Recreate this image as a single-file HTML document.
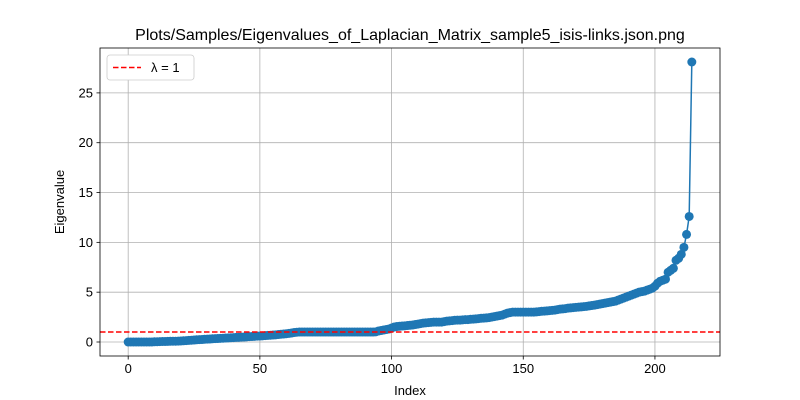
<!DOCTYPE html>
<html><head><meta charset="utf-8"><style>body{margin:0;background:#fff}svg{display:block;font-family:"Liberation Sans",sans-serif}</style></head>
<body>
<svg id="chart" width="800" height="400"></svg>
<script>
const indices = [];
const eigenvalues = [
0,0,0,0,0,0,0,0,0,0,
0.02,0.03,0.04,0.05,0.05,0.06,0.07,0.08,0.08,0.09,
0.1,0.12,0.14,0.16,0.18,0.2,0.22,0.24,0.25,0.27,
0.29,0.3,0.32,0.34,0.35,0.37,0.38,0.4,0.41,0.43,
0.44,0.46,0.47,0.49,0.5,0.52,0.54,0.55,0.57,0.59,
0.6,0.62,0.64,0.66,0.68,0.7,0.72,0.75,0.78,0.8,
0.83,0.86,0.9,0.95,0.98,1,1,1,1,1,
1,1,1,1,1,1,1,1,1,1,
1,1,1,1,1,1,1,1,1,1,
1,1,1,1,1.02,1.1,1.15,1.2,1.25,1.3,
1.4,1.5,1.55,1.58,1.6,1.62,1.65,1.68,1.7,1.75,
1.8,1.85,1.9,1.92,1.95,1.97,2,2,2,2,
2.05,2.1,2.12,2.15,2.18,2.2,2.2,2.22,2.25,2.25,
2.28,2.3,2.32,2.35,2.38,2.4,2.42,2.45,2.5,2.55,
2.6,2.65,2.7,2.8,2.9,2.95,3,3,3,3,
3,3,3,3,3,3.02,3.05,3.08,3.1,3.12,
3.15,3.18,3.2,3.25,3.3,3.32,3.35,3.4,3.42,3.45,
3.48,3.5,3.52,3.55,3.58,3.62,3.66,3.7,3.75,3.8,
3.85,3.9,3.95,4.0,4.05,4.1,4.2,4.3,4.4,4.5,
4.6,4.7,4.8,4.9,5.0,5.05,5.1,5.2,5.3,5.4,
5.6,5.9,6.1,6.2,6.3,7.0,7.2,7.4,8.2,8.4,
8.8,9.5,10.8,12.6,28.1];
for (let i = 0; i < eigenvalues.length; i++) indices.push(i);
const xTicks = [0, 50, 100, 150, 200];
const yTicks = [0, 5, 10, 15, 20, 25];
const threshold = 1;

const L = 100, R = 720, T = 48, B = 356;
const n = eigenvalues.length;
const ymax = Math.max(...eigenvalues);
const xmin = -0.05 * (n - 1), xmax = (n - 1) * 1.05;
const ymin = -0.05 * ymax, ymaxA = ymax * 1.05;
const sx = v => L + (v - xmin) / (xmax - xmin) * (R - L);
const sy = v => B - (v - ymin) / (ymaxA - ymin) * (B - T);
const svg = document.getElementById('chart');
const NS = 'http://www.w3.org/2000/svg';
function mk(tag, attrs, parent) {
  const e = document.createElementNS(NS, tag);
  for (const k in attrs) e.setAttribute(k, attrs[k]);
  (parent || svg).appendChild(e);
  return e;
}
let t = mk('text', {x: 410, y: 40, 'text-anchor': 'middle', 'font-size': 16, fill: '#000'});
t.textContent = 'Plots/Samples/Eigenvalues_of_Laplacian_Matrix_sample5_isis-links.json.png';


xTicks.forEach(v => {
  const x = sx(v);
  const g = mk('line', {x1: x, x2: x, y1: T, y2: B, stroke: '#b0b0b0', 'stroke-width': 0.8});
  
  
  mk('line', {x1: x, x2: x, y1: B, y2: B + 3.5, stroke: '#000', 'stroke-width': 0.8});
  const lb = mk('text', {x: x, y: B + 17, 'text-anchor': 'middle', 'font-size': 13});
  lb.textContent = v;
  
  
});
yTicks.forEach(v => {
  const y = sy(v);
  const g = mk('line', {x1: L, x2: R, y1: y, y2: y, stroke: '#b0b0b0', 'stroke-width': 0.8});
  
  
  mk('line', {x1: L - 3.5, x2: L, y1: y, y2: y, stroke: '#000', 'stroke-width': 0.8});
  const lb = mk('text', {x: L - 7, y: y + 4.5, 'text-anchor': 'end', 'font-size': 13});
  lb.textContent = v;
  
  
});
const xl = mk('text', {x: (L + R) / 2, y: 395, 'text-anchor': 'middle', 'font-size': 13});
xl.textContent = 'Index';


const yl = mk('text', {x: 0, y: 0, 'text-anchor': 'middle', 'font-size': 13, transform: 'translate(64,' + (T + B) / 2 + ') rotate(-90)'});
yl.textContent = 'Eigenvalue';


const ln = mk('polyline', {points: indices.map((i) => sx(i) + ',' + sy(eigenvalues[i])).join(' '), fill: 'none', stroke: '#1f77b4', 'stroke-width': 1.5});


indices.forEach(i => {
  const c = mk('circle', {cx: sx(i), cy: sy(eigenvalues[i]), r: 4.5, fill: '#1f77b4'});
  
  
});
const th = mk('line', {x1: L, x2: R, y1: sy(threshold), y2: sy(threshold), stroke: '#ff0000', 'stroke-width': 1.5, 'stroke-dasharray': '5.5,2.5'});


const fr = mk('rect', {x: L, y: T, width: R - L, height: B - T, fill: 'none', stroke: '#000', 'stroke-width': 0.8});


const lg = mk('g', {});


mk('rect', {x: 107, y: 55, width: 87, height: 25, rx: 3, fill: '#fff', stroke: '#ccc', 'stroke-width': 0.8}, lg);
mk('line', {x1: 113, x2: 141, y1: 67.5, y2: 67.5, stroke: '#ff0000', 'stroke-width': 1.5, 'stroke-dasharray': '5.5,2.5'}, lg);
const lt = mk('text', {x: 151, y: 72, 'font-size': 13}, lg);
lt.textContent = 'λ = 1';


</script>
</body></html>
